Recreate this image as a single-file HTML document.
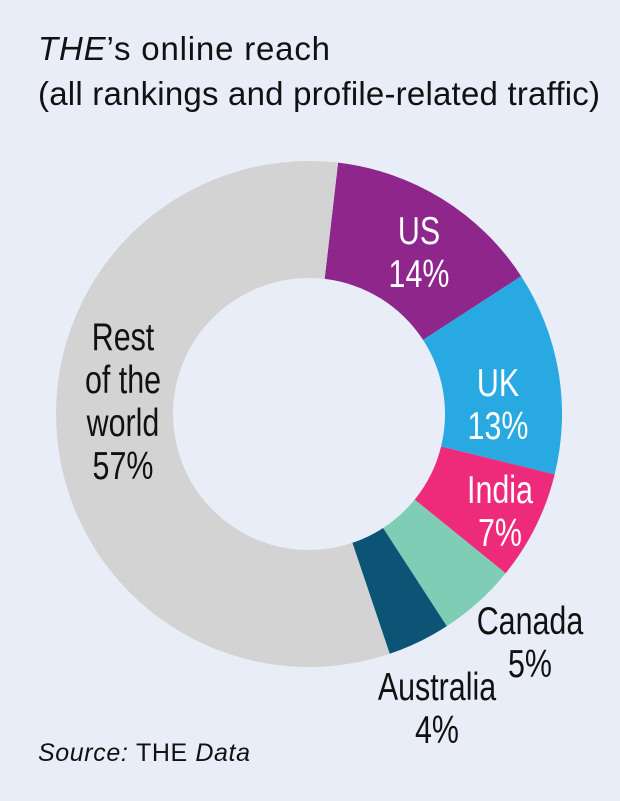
<!DOCTYPE html>
<html><head><meta charset="utf-8"><style>
body{margin:0;width:620px;height:801px;background:#e8edf7;overflow:hidden}
svg{display:block}
text{font-family:"Liberation Sans",sans-serif}
</style></head><body>
<svg id="chart" width="620" height="801">
<text x="38" y="60" font-size="33" fill="#111" textLength="292"><tspan font-style="italic">THE</tspan>’s online reach</text>
<text x="38" y="105" font-size="33" fill="#111" textLength="562">(all rankings and profile-related traffic)</text>
<g id="slices"></g>
<g id="labels"></g>
<text x="38" y="761" font-size="25" fill="#111" font-style="italic" textLength="212">Source: <tspan font-style="normal">THE</tspan> Data</text>
</svg>
<script>
const categories=["US","UK","India","Canada","Australia","Rest of the world"];
const values=[14,13,7,5,4,57];
const colors=["#8e268c","#29a9e1","#ee2b7b","#7fcdb4","#0b5475","#d3d3d3"];
const labelLines=[["US","14%"],["UK","13%"],["India","7%"],["Canada","5%"],["Australia","4%"],["Rest","of the","world","57%"]];
const labelPos=[[419,244],[498,396],[500,503],[530,634],[437,700],[123,350]];
const labelColor=["#fff","#fff","#fff","#111","#111","#111"];
const cx=309,cy=414,R=253,r=136,start=6.6;
const ns="http://www.w3.org/2000/svg";
const total=values.reduce((a,b)=>a+b,0);
function pt(a,rad){const t=(a-90)*Math.PI/180;return [cx+rad*Math.cos(t),cy+rad*Math.sin(t)];}
let a=start;
const gS=document.getElementById('slices'),gL=document.getElementById('labels');
values.forEach((v,i)=>{
  const span=v/total*360,a2=a+span,large=span>180?1:0;
  const p1=pt(a,R),p2=pt(a2,R),p3=pt(a2,r),p4=pt(a,r);
  const p=document.createElementNS(ns,'path');
  p.setAttribute('d',`M${p1}A${R},${R} 0 ${large} 1 ${p2}L${p3}A${r},${r} 0 ${large} 0 ${p4}Z`);
  p.setAttribute('fill',colors[i]);
  
  
  gS.appendChild(p);
  const t=document.createElementNS(ns,'text');
  const x=labelPos[i][0];
  t.setAttribute('text-anchor','middle');
  t.setAttribute('font-size','39');
  t.setAttribute('transform',`translate(${x},0) scale(0.78,1) translate(${-x},0)`);
  t.setAttribute('fill',labelColor[i]);
  
  
  labelLines[i].forEach((ln,j)=>{const s=document.createElementNS(ns,'tspan');s.setAttribute('x',x);s.setAttribute('y',labelPos[i][1]+j*43);s.textContent=ln;t.appendChild(s);});
  gL.appendChild(t);
  a=a2;
});
</script>
</body></html>
